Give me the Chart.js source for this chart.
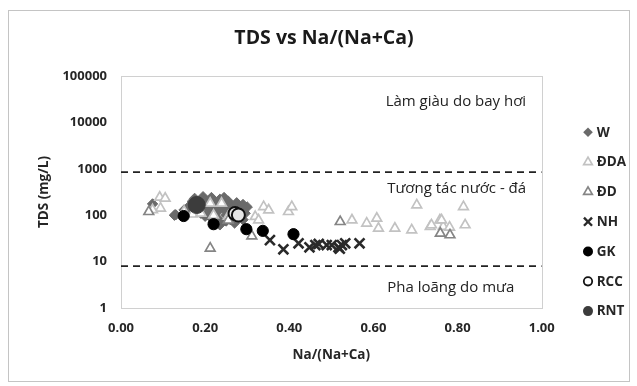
<!DOCTYPE html>
<html><head><meta charset="utf-8">
<script src="https://cdn.jsdelivr.net/npm/chart.js@4"></script>
<style>
html,body{margin:0;padding:0;background:#fff;}
#wrap{position:absolute;left:8px;top:10px;width:620px;height:370px;border:1px solid #c4c4c4;background:#fff;}
canvas{display:block;}
</style></head>
<body><div id="wrap"><canvas id="c" width="620" height="370"></canvas></div>
<script>
// ---- data (x = Na/(Na+Ca), y = TDS mg/L) ----
const seriesNames = ['W', 'ĐDA', 'ĐD', 'NH', 'GK', 'RCC', 'RNT'];
const W_points = [
  [0.075,175],[0.127,100],[0.13,102],[0.15,130],[0.16,150],[0.165,120],[0.17,200],[0.175,230],
  [0.18,180],[0.185,140],[0.19,110],[0.195,250],[0.20,210],[0.205,160],[0.21,130],[0.21,95],
  [0.215,240],[0.22,190],[0.225,150],[0.23,120],[0.23,85],[0.235,220],[0.24,170],[0.245,135],
  [0.25,100],[0.25,75],[0.255,200],[0.26,160],[0.265,125],[0.27,90],[0.275,185],[0.28,150],
  [0.285,130],[0.29,170],[0.295,110],[0.30,150],[0.245,240],[0.20,95],[0.22,70],[0.26,80],[0.29,80],
  [0.235,62],[0.27,68]
];
const DDA_points = [
  [0.092,242],[0.105,231],[0.094,141],[0.075,130],[0.212,180],[0.239,180],[0.319,93],[0.327,78.6],
  [0.339,152],[0.351,129],[0.398,119],[0.406,152],[0.549,78.6],[0.584,67],[0.608,85.6],[0.612,52],
  [0.651,52],[0.691,48],[0.703,166],[0.735,56.6],[0.758,78.6],[0.766,56.6],[0.738,61.6],[0.762,78.6],
  [0.814,152],[0.818,61.6],[0.781,55],[0.15,120],[0.17,105],[0.19,110],[0.22,100],[0.255,95]
];
const DD_points = [
  [0.066,119],[0.212,19.4],[0.311,35.6],[0.521,72.5],[0.759,40.7],[0.782,37.5],[0.255,78]
];
const NH_points = [
  [0.354,29],[0.386,18.4],[0.422,24.8],[0.448,20.3],[0.462,22.7],[0.47,24],[0.489,22.7],
  [0.501,22.7],[0.517,20.3],[0.52,19],[0.525,22.7],[0.533,24.8],[0.567,24.8]
];
const GK_points = [[0.149,96],[0.22,64],[0.298,50],[0.337,46],[0.41,39]];
const RCC_points = [[0.271,109],[0.279,101]];
const RNT_points = [[0.18,166]];
const upperLimit = 850;   // dashed boundary lines
const lowerLimit = 8;
const yTickValues = [1, 10, 100, 1000, 10000, 100000];
const xTickStep = 0.2;
const zoneLabels = ['Làm giàu do bay hơi', 'Tương tác nước - đá', 'Pha loãng do mưa'];
const zoneLabelX = [0.963, 0.963, 0.935];
const zoneLabelY = [27900, 367, 2.7];

const FONT = "'Open Sans', sans-serif";
const toXY = arr => arr.map(p => ({x: p[0], y: p[1]}));

const styles = [
  {pointStyle:'rectRot', radius:5.2, bg:'#6a6a6a', border:'#6a6a6a', bw:1, order:7},
  {pointStyle:'triangle', radius:5.6, bg:'#ffffff', border:'#c2c2c2', bw:1.7, order:6},
  {pointStyle:'triangle', radius:5.6, bg:'#ffffff', border:'#858585', bw:1.7, order:5},
  {pointStyle:'crossRot', radius:7, bg:'#2a2a2a', border:'#2a2a2a', bw:2.6, order:4},
  {pointStyle:'circle', radius:5.6, bg:'#000000', border:'#000000', bw:1, order:3},
  {pointStyle:'circle', radius:6.5, bg:'#e6e6e6', border:'#111111', bw:2, order:2},
  {pointStyle:'circle', radius:8.5, bg:'#3c3c3c', border:'#3c3c3c', bw:1, order:1}
];
const allPoints = [W_points, DDA_points, DD_points, NH_points, GK_points, RCC_points, RNT_points];

const datasets = seriesNames.map((n, i) => ({
  label: n, data: toXY(allPoints[i]),
  pointStyle: styles[i].pointStyle, pointRadius: styles[i].radius, pointHoverRadius: styles[i].radius,
  backgroundColor: styles[i].bg, borderColor: styles[i].border, pointBorderWidth: styles[i].bw,
  borderWidth: styles[i].bw, order: styles[i].order
}));
[upperLimit, lowerLimit].forEach(v => datasets.push({
  type:'line', label:'_limit', data:[{x:0,y:v},{x:1,y:v}], borderColor:'#222222',
  borderWidth:1.8, borderDash:[7,5], pointRadius:0, order:10, fill:false
}));

const framePlugin = {
  id:'frame',
  beforeDatasetsDraw(chart){
    const a = chart.chartArea, ctx = chart.ctx;
    ctx.save(); ctx.strokeStyle = '#d0d0d0'; ctx.lineWidth = 1;
    ctx.strokeRect(Math.round(a.left)+0.5, Math.round(a.top)+0.5, Math.round(a.right-a.left), Math.round(a.bottom-a.top));
    ctx.restore();
  }
};
const zonePlugin = {
  id:'zones',
  afterDatasetsDraw(chart){
    const ctx = chart.ctx, xs = chart.scales.x, ys = chart.scales.y;
    ctx.save(); ctx.font = "15px " + FONT; ctx.fillStyle = '#222'; ctx.textAlign = 'right'; ctx.textBaseline = 'middle';
    zoneLabels.forEach((t, i) => ctx.fillText(t, xs.getPixelForValue(zoneLabelX[i]), ys.getPixelForValue(zoneLabelY[i])));
    ctx.restore();
  }
};
function drawMarker(ctx, st, x, y, r){
  ctx.save(); ctx.fillStyle = st.bg; ctx.strokeStyle = st.border; ctx.lineWidth = st.bw;
  ctx.beginPath();
  if (st.pointStyle === 'rectRot'){ ctx.moveTo(x, y-r); ctx.lineTo(x+r, y); ctx.lineTo(x, y+r); ctx.lineTo(x-r, y); ctx.closePath(); ctx.fill(); }
  else if (st.pointStyle === 'triangle'){ const h = r*Math.sqrt(3)/2; ctx.moveTo(x, y-r); ctx.lineTo(x+h, y+r/2); ctx.lineTo(x-h, y+r/2); ctx.closePath(); ctx.fill(); ctx.stroke(); }
  else if (st.pointStyle === 'crossRot'){ const d = r*0.72; ctx.moveTo(x-d,y-d); ctx.lineTo(x+d,y+d); ctx.moveTo(x+d,y-d); ctx.lineTo(x-d,y+d); ctx.stroke(); }
  else { ctx.arc(x, y, r, 0, Math.PI*2); ctx.fill(); if (st.bw > 1) ctx.stroke(); }
  ctx.restore();
}
const legendPlugin = {
  id:'sideLegend',
  afterDraw(chart){
    const ctx = chart.ctx, a = chart.chartArea, right = chart.scales.yR.left;
    const mx = right + 46.3, tx = right + 55, y0 = a.top + 56.3, step = 29.8;
    const legendR = [4.8, 5, 5, 5.6, 5, 4.2, 5];
    seriesNames.forEach((n, i) => {
      const y = y0 + i*step;
      const st = Object.assign({}, styles[i]);
      if (i === 5) { st.bg = '#ffffff'; st.bw = 1.8; }
      if (i === 3) { st.bw = 2.4; }
      drawMarker(ctx, st, mx, y, legendR[i]);
      ctx.save(); ctx.font = "bold 13.5px " + FONT; ctx.fillStyle = '#262626'; ctx.textAlign = 'left'; ctx.textBaseline = 'middle';
      ctx.fillText(n, tx, y + 0.5); ctx.restore();
    });
  }
};

new Chart(document.getElementById('c'), {
  type:'scatter',
  data:{ datasets },
  options:{
    responsive:false, animation:false, devicePixelRatio:1,
    layout:{ padding:{ left:10, right:0, top:0, bottom:0 } },
    plugins:{
      legend:{ display:false }, tooltip:{ enabled:false },
      title:{ display:true, text:'TDS vs Na/(Na+Ca)', color:'#1a1a1a',
        font:{ family:FONT, size:19.5, weight:'bold', lineHeight:1.2 }, padding:{ top:15.3, bottom:26.3 } }
    },
    scales:{
      x:{ type:'linear', min:0, max:1, position:'bottom',
        afterFit(s){ s.height = 73; },
        ticks:{ stepSize:xTickStep, padding:12, color:'#262626', font:{ family:FONT, size:13, weight:'bold' },
          callback:v => Number(v).toFixed(2) },
        grid:{ display:false, drawTicks:false }, border:{ display:true, color:'#d0d0d0' },
        title:{ display:true, text:'Na/(Na+Ca)', color:'#262626', font:{ family:FONT, size:13.5, weight:'bold', lineHeight:1.2 }, padding:{ top:0, bottom:17.5 } }
      },
      y:{ type:'logarithmic', min:1, max:100000, position:'left',
        afterFit(s){ s.width = 102; },
        afterBuildTicks(s){ s.ticks = yTickValues.map(v => ({ value:v })); },
        ticks:{ padding:14, color:'#262626', font:{ family:FONT, size:13, weight:'bold' }, callback:v => String(v) },
        grid:{ display:false, drawTicks:false }, border:{ display:true, color:'#d0d0d0' },
        title:{ display:true, text:'TDS (mg/L)', color:'#262626', font:{ family:FONT, size:13.5, weight:'bold', lineHeight:1.2 }, padding:{ top:17.5, bottom:0 } }
      },
      yR:{ type:'linear', position:'right', display:true,
        afterFit(s){ s.width = 87.3; },
        ticks:{ display:false }, grid:{ display:false, drawTicks:false }, border:{ display:false }
      }
    }
  },
  plugins:[framePlugin, zonePlugin, legendPlugin]
});
</script>
</body></html>
